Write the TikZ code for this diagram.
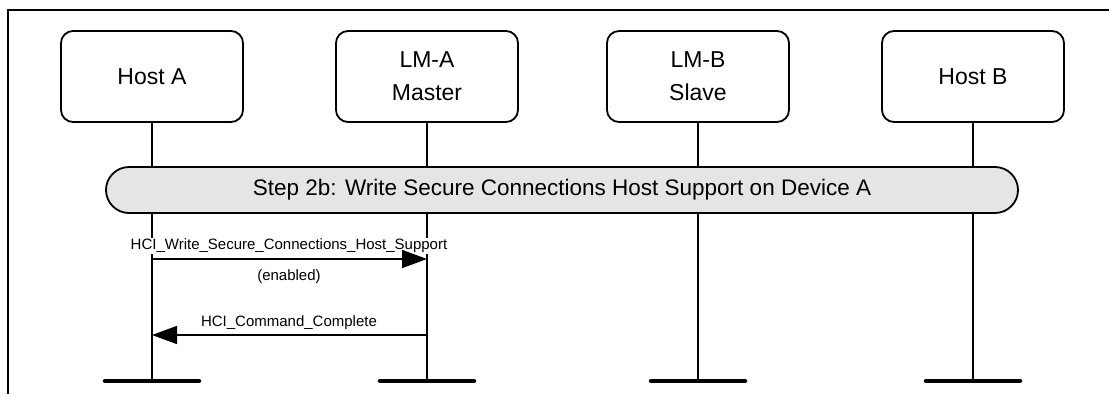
\documentclass[tikz,border=0pt]{standalone}
\usepackage{fontspec}
\setmainfont{Liberation Sans}
\usetikzlibrary{arrows.meta}
\begin{document}
\begin{tikzpicture}[x=1pt,y=-1pt,
  entity/.style={draw,line width=1.8pt,rounded corners=12pt,minimum width=182pt,minimum height=91pt,font=\fontsize{23}{33}\selectfont,align=center,inner sep=0pt},
  life/.style={line width=1.8pt},
  foot/.style={line width=4.5pt,line cap=round},
  stepbar/.style={draw,line width=1.8pt,fill=black!10,rounded corners=23pt,minimum width=912pt,minimum height=46pt,font=\fontsize{22.5}{26}\selectfont,inner sep=0pt},
  msg/.style={line width=1.6pt,-{Triangle[length=25pt,width=18pt]}},
  lbl/.style={font=\fontsize{15}{17}\selectfont,fill=white,inner sep=1pt}]
\useasboundingbox (0,0) rectangle (1109,394);
\draw[line width=2.5pt] (8,394) -- (8,10) -- (1109,10);
% entities
\node[entity] (ha) at (152,76.5) {Host A};
\node[entity] (la) at (427,76.5) {LM-A\\Master};
\node[entity] (lb) at (698,76.5) {LM-B\\Slave};
\node[entity] (hb) at (973,76.5) {Host B};
% feet
\coordinate (fha) at (152,381);
\coordinate (fla) at (427,381);
\coordinate (flb) at (698,381);
\coordinate (fhb) at (973,381);
\foreach \n in {ha,la,lb,hb}{
  \draw[life] (\n.south) -- (f\n);
  \draw[foot] ([xshift=-47pt]f\n) -- ([xshift=47pt]f\n);
}
% step bar
\node[stepbar] (step) at (562,190) {Step 2b: Write Secure Connections Host Support on Device A};
% messages
\coordinate (m1a) at (152,259);
\coordinate (m1b) at (427,259);
\coordinate (m2a) at (427,335);
\coordinate (m2b) at (152,335);
\node[lbl] (l1) at (289,246) {HCI\_Write\_Secure\_Connections\_Host\_Support};
\node[lbl] (l1b) at (289,277) {(enabled)};
\node[lbl] (l2) at (289,323) {HCI\_Command\_Complete};
\draw[msg] (m1a) -- (m1b);
\draw[msg] (m2a) -- (m2b);
\end{tikzpicture}
\end{document}
